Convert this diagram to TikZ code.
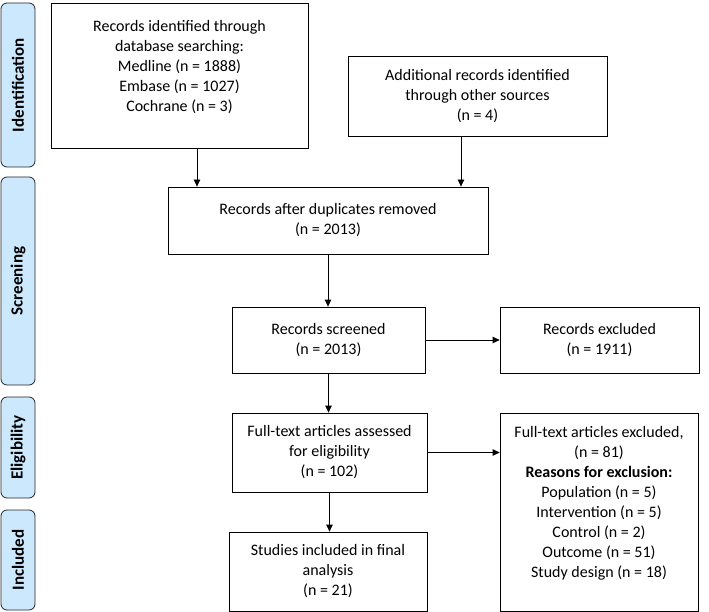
\documentclass[tikz,border=0pt]{standalone}
\usepackage{fontspec}
\setmainfont{Carlito}
\usetikzlibrary{arrows.meta}
\definecolor{phase}{RGB}{204,232,252}
\begin{document}
\begin{tikzpicture}[x=1pt,y=-1pt,
  box/.style={draw, thick, align=center, inner sep=0pt, font=\fontsize{16}{20}\selectfont},
  phasebox/.style={draw=black!85, thick, fill=phase, rounded corners=6pt, rotate=90,
    inner sep=0pt, minimum height=34pt, font=\fontsize{17}{20}\selectfont\bfseries},
  arr/.style={thick, -{Triangle[length=7pt,width=6.5pt]}}]
\useasboundingbox (0,0) rectangle (709,612);
\begin{scope}
\node[phasebox, minimum width=164pt] (ident) at (18,85) {Identification};
\node[phasebox, minimum width=208pt] (scr) at (18,281) {Screening};
\node[phasebox, minimum width=101pt] (elig) at (18,447.5) {Eligibility};
\node[phasebox, minimum width=100pt] (incl) at (18,560) {Included};
\end{scope}
\node[box, minimum width=257pt, minimum height=145pt] (db) at (179.5,75.5)
  {Records identified through\\ database searching:\\ Medline (n = 1888)\\ Embase (n = 1027)\\ Cochrane (n = 3)\\ \mbox{}};
\node[box, minimum width=259pt, minimum height=80pt] (other) at (477.5,96)
  {Additional records identified\\ through other sources\\ (n = 4)};
\node[box, minimum width=320pt, minimum height=67pt] (dup) at (328,220.5)
  {Records after duplicates removed\\ (n = 2013)};
\node[box, minimum width=193pt, minimum height=66pt] (scrd) at (328.5,340)
  {Records screened\\ (n = 2013)};
\node[box, minimum width=199pt, minimum height=66pt] (excl) at (599.5,340)
  {Records excluded\\ (n = 1911)};
\node[box, minimum width=195pt, minimum height=79pt] (full) at (329.5,452.5)
  {Full-text articles assessed\\ for eligibility\\ (n = 102)};
\node[box, minimum width=198pt, minimum height=198pt] (fexcl) at (599,512)
  {Full-text articles excluded,\\ (n = 81)\\ \textbf{Reasons for exclusion:}\\ Population (n = 5)\\ Intervention (n = 5)\\ Control (n = 2)\\ Outcome (n = 51)\\ Study design (n = 18)\\ \mbox{}};
\node[box, minimum width=198pt, minimum height=79pt] (final) at (328,571.5)
  {Studies included in final\\ analysis\\ (n = 21)};
\draw[arr] ([xshift=17.5pt]db.south) -- ([xshift=17.5pt]db.south |- dup.north);
\draw[arr] ([xshift=-16.5pt]other.south) -- ([xshift=-16.5pt]other.south |- dup.north);
\draw[arr] (dup.south) -- (dup.south |- scrd.north);
\draw[arr] (scrd.east) -- (excl.west);
\draw[arr] (scrd.south) -- (scrd.south |- full.north);
\draw[arr] (full.east) -- (full.east -| fexcl.west);
\draw[arr] (full.south) -- (full.south |- final.north);
\end{tikzpicture}
\end{document}
